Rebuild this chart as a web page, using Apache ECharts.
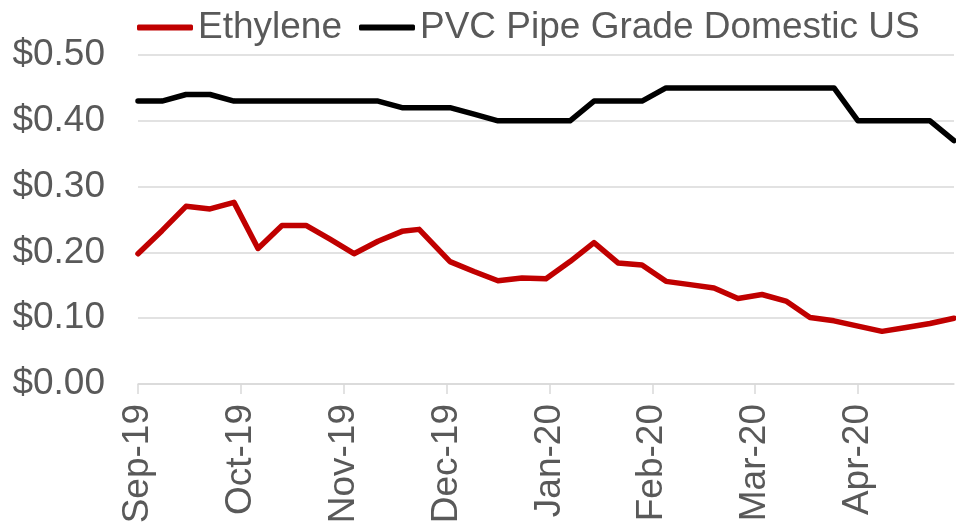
<!DOCTYPE html>
<html>
<head>
<meta charset="utf-8">
<script src="https://cdn.jsdelivr.net/npm/echarts@6/dist/echarts.min.js"></script>
<style>
html,body{margin:0;padding:0;background:#fff;}
#chart{width:956px;height:530px;}
</style>
</head>
<body>
<div id="chart"></div>
<script>
// Observation dates (weekly)
var dates = [
  '2019-09-06','2019-09-13','2019-09-20','2019-09-27',
  '2019-10-04','2019-10-11','2019-10-18','2019-10-25',
  '2019-11-01','2019-11-08','2019-11-15','2019-11-22','2019-11-27',
  '2019-12-06','2019-12-13','2019-12-20','2019-12-27',
  '2020-01-03','2020-01-10','2020-01-17','2020-01-24','2020-01-31',
  '2020-02-07','2020-02-14','2020-02-21','2020-02-28',
  '2020-03-06','2020-03-13','2020-03-20','2020-03-27',
  '2020-04-03','2020-04-10','2020-04-17','2020-04-24','2020-05-01'
];
var ethylene = [
  0.198,0.233,0.270,0.266,
  0.276,0.206,0.241,0.241,
  0.220,0.198,0.217,0.232,0.235,
  0.186,0.171,0.157,0.161,
  0.160,0.186,0.215,0.184,0.181,
  0.156,0.151,0.146,0.130,
  0.136,0.126,0.101,0.096,
  0.088,0.080,0.086,0.092,0.100
];
var pvc = [
  0.43,0.43,0.44,0.44,
  0.43,0.43,0.43,0.43,
  0.43,0.43,0.43,0.42,0.42,
  0.42,0.41,0.40,0.40,
  0.40,0.40,0.43,0.43,0.43,
  0.45,0.45,0.45,0.45,
  0.45,0.45,0.45,0.45,
  0.40,0.40,0.40,0.40,0.37
];
var seriesNames = ['Ethylene','PVC Pipe Grade Domestic US'];
var tickLabels = ['Sep-19','Oct-19','Nov-19','Dec-19','Jan-20','Feb-20','Mar-20','Apr-20'];

var DAY = 86400000;
var t0 = Date.parse(dates[0]);
function dayOff(s){ return Math.round((Date.parse(s) - t0) / DAY); }
var xs = dates.map(dayOff);
var tickStep = 30;
var tickValues = tickLabels.map(function(_, i){ return i * tickStep; });
var xMax = xs[xs.length - 1];

var FONT = '"Liberation Sans", Arial, sans-serif';
var TXT = '#595959';
var GRID = '#d9d9d9';

var chart = echarts.init(document.getElementById('chart'), null, {renderer: 'canvas'});
chart.setOption({
  animation: false,
  backgroundColor: '#ffffff',
  grid: {left: 138, right: 2, top: 55, bottom: 146, containLabel: false},
  legend: {
    left: 132, top: 4,
    icon: 'roundRect',
    itemWidth: 56, itemHeight: 6, itemGap: 17,
    textStyle: {fontFamily: FONT, fontSize: 37, color: TXT},
    data: seriesNames
  },
  xAxis: {
    type: 'value', min: 0, max: xMax, interval: tickStep,
    axisLine: {show: true, lineStyle: {color: GRID, width: 1.5}},
    axisTick: {show: true, length: 10, lineStyle: {color: GRID, width: 1.5}, customValues: tickValues},
    splitLine: {show: false},
    axisLabel: {
      customValues: tickValues,
      rotate: 90, margin: 20,
      fontFamily: FONT, fontSize: 37, color: TXT,
      formatter: function(v){ var i = Math.round(v / tickStep); return tickLabels[i] || ''; }
    }
  },
  yAxis: {
    type: 'value', min: 0, max: 0.5, interval: 0.1,
    axisLine: {show: false}, axisTick: {show: false},
    splitLine: {show: true, lineStyle: {color: GRID, width: 1.5}},
    axisLabel: {
      margin: 33, fontFamily: FONT, fontSize: 37, color: TXT,
      formatter: function(v){ return '$' + v.toFixed(2); }
    }
  },
  series: [
    {
      name: seriesNames[0], type: 'line', symbol: 'none',
      lineStyle: {color: '#c00000', width: 5.5, cap: 'round', join: 'round'},
      itemStyle: {color: '#c00000'},
      data: xs.map(function(x, i){ return [x, ethylene[i]]; })
    },
    {
      name: seriesNames[1], type: 'line', symbol: 'none',
      lineStyle: {color: '#000000', width: 5.5, cap: 'round', join: 'round'},
      itemStyle: {color: '#000000'},
      data: xs.map(function(x, i){ return [x, pvc[i]]; })
    }
  ]
});
</script>
</body>
</html>
